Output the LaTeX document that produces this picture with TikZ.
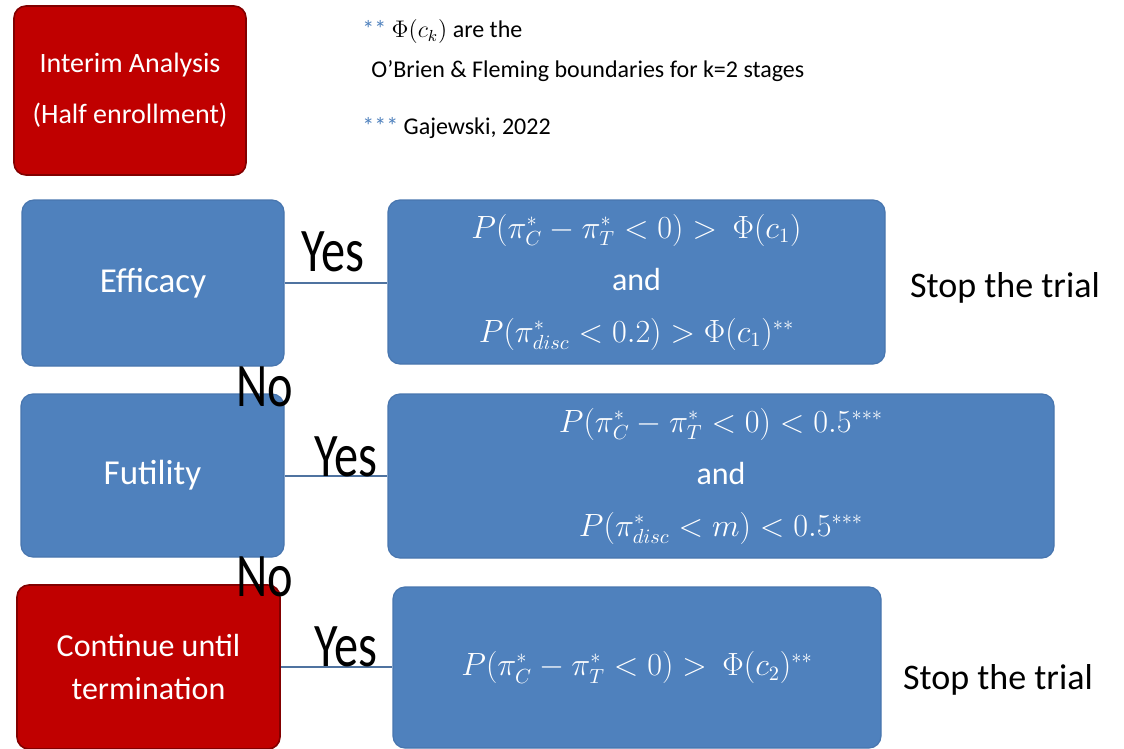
\documentclass[tikz,border=0pt]{standalone}
\usepackage{fontspec}
\setmainfont{Carlito}
\definecolor{boxblue}{RGB}{79,129,189}
\definecolor{boxblueline}{RGB}{72,118,175}
\definecolor{boxred}{RGB}{192,0,0}
\definecolor{boxredline}{RGB}{130,0,0}
\definecolor{linkblue}{RGB}{79,115,160}
\newcommand{\fm}[1]{\scalebox{0.93}{$#1$}}
\begin{document}
\begin{tikzpicture}[x=0.5pt,y=-0.5pt,
  bluebox/.style={rectangle,rounded corners=6pt,fill=boxblue,draw=boxblueline,line width=0.6pt,text=white,inner sep=0pt,align=center},
  redbox/.style={rectangle,rounded corners=6pt,fill=boxred,draw=boxredline,line width=0.8pt,text=white,inner sep=0pt,align=center},
  cond/.style={bluebox,font=\fontsize{16}{26}\selectfont},
  lbl/.style={font=\fontsize{17.5}{22}\selectfont},
  yesno/.style={font=\fontsize{31}{31}\selectfont,xscale=0.78,inner sep=0pt},
  stoptxt/.style={font=\fontsize{18}{22}\selectfont,inner sep=0pt},
  note/.style={font=\fontsize{12}{14}\selectfont,anchor=west,inner sep=0pt},
  link/.style={draw=linkblue,line width=1pt}]
\useasboundingbox (0,0) rectangle (1124,749);
% left column
\node[redbox,minimum width=116pt,minimum height=84.5pt,font=\fontsize{14}{25.5}\selectfont] (interim) at (130,90.5) {Interim Analysis\\(Half enrollment)};
\node[bluebox,lbl,minimum width=131pt,minimum height=83pt] (eff) at (153,283) {Efficacy};
\node[bluebox,lbl,minimum width=131.5pt,minimum height=81.5pt] (fut) at (152.5,475.5) {Futility};
\node[redbox,minimum width=131.5pt,minimum height=82pt,font=\fontsize{16}{21.5}\selectfont] (cont) at (148.5,667) {Continue until\\termination};
% condition boxes
\node[cond,minimum width=248.5pt,minimum height=82pt] (effc) at (636.5,282) {\fm{P(\pi_C^{*}-\pi_T^{*}<0)>\ \Phi(c_1)}\\and\\\fm{P(\pi_{disc}^{*}<0.2)>\Phi(c_1)^{**}}};
\node[cond,minimum width=333pt,minimum height=82pt] (futc) at (721,476) {\fm{P(\pi_C^{*}-\pi_T^{*}<0)<0.5^{***}}\\and\\\fm{P(\pi_{disc}^{*}<m)<0.5^{***}}};
\node[cond,minimum width=244pt,minimum height=80.5pt] (contc) at (637,667.5) {\fm{P(\pi_C^{*}-\pi_T^{*}<0)>\ \Phi(c_2)^{**}}};
% connectors
\draw[link] (eff.east) -- (eff.east -| effc.west);
\draw[link] (fut.east) -- (fut.east -| futc.west);
\draw[link] (cont.east) -- (cont.east -| contc.west);
% labels
\node[yesno] (y1) at (333,252) {Yes};
\node[yesno] (y2) at (346,457) {Yes};
\node[yesno] (y3) at (346,647) {Yes};
\node[yesno] (n1) at (265,387) {No};
\node[yesno] (n2) at (265,577) {No};
\node[stoptxt] (s1) at (1005,288) {Stop the trial};
\node[stoptxt] (s2) at (998,680) {Stop the trial};
% notes
\node[note] (f1) at (362,32) {\textcolor{boxblue}{**} $\Phi(c_k)$ are the};
\node[note] (f2) at (371,71) {O’Brien \& Fleming boundaries for k=2 stages};
\node[note] (f3) at (362,128) {\textcolor{boxblue}{***} Gajewski, 2022};
\end{tikzpicture}
\end{document}
